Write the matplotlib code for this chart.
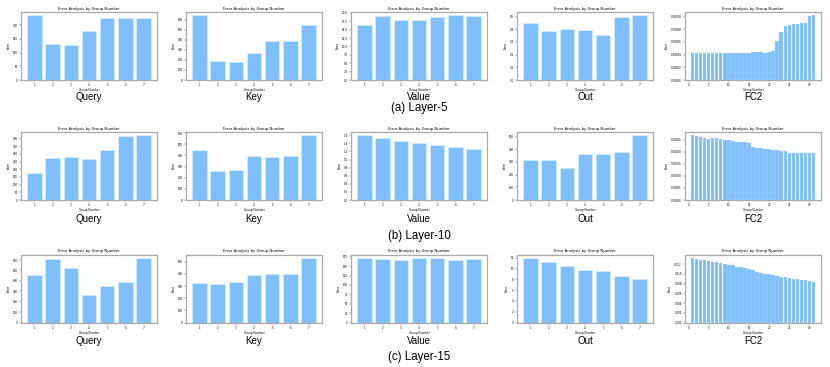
import numpy as np
import matplotlib.pyplot as plt
from matplotlib.ticker import MultipleLocator

# ---- data ----
groups7 = [1, 2, 3, 4, 5, 6, 7]
groups31 = list(range(1, 32))

panel_names = ['Query', 'Key', 'Value', 'Out', 'FC2']
row_captions = ['(a) Layer-5', '(b) Layer-10', '(c) Layer-15']

# Layer-5
query_l5 = [236, 131, 127, 177, 225, 225, 227]
key_l5 = [643, 188, 175, 267, 389, 392, 545]
value_l5 = [16.5, 19.0, 18.0, 17.8, 18.7, 19.3, 19.1]
out_l5 = [0.45, 0.384, 0.40, 0.39, 0.353, 0.495, 0.51]
fc2_l5 = np.array([4.28, 4.28, 4.20, 4.22, 4.18, 4.18, 4.20, 4.22, 4.22, 4.18,
                   4.20, 4.22, 4.22, 4.22, 4.20, 4.38, 4.40, 4.38, 4.32, 4.48,
                   4.62, 6.13, 7.64, 8.53, 8.69, 8.80, 8.80, 8.95, 9.06, 10.16,
                   10.21]) * 1e-5

# Layer-10
query_l10 = [179, 275, 277, 264, 324, 415, 422]
key_l10 = [452, 259, 268, 396, 384, 390, 580]
value_l10 = [1.60, 1.534, 1.46, 1.42, 1.37, 1.31, 1.26]
out_l10 = [314, 314, 251, 359, 364, 380, 510]
fc2_l10 = np.array([26.8, 26.5, 26.1, 25.8, 25.4, 25.8, 25.5, 25.4, 25.0, 24.7,
                    24.3, 24.0, 23.9, 23.8, 23.4, 22.0, 21.7, 21.4, 21.3, 20.9,
                    20.7, 20.5, 20.3, 20.1, 19.5, 19.5, 19.6, 19.5, 19.4, 19.4,
                    19.4]) * 1e-5

# Layer-15
query_l15 = [456, 606, 526, 263, 350, 391, 622]
key_l15 = [321, 319, 332, 393, 398, 398, 533]
value_l15 = [171.4, 169.6, 165.2, 172.3, 172.3, 166.1, 168.7]
out_l15 = [12.0, 11.3, 10.4, 9.8, 9.57, 8.7, 8.09]
fc2_l15 = np.array([13.29, 13.0, 12.88, 12.81, 12.6, 12.47, 12.33, 12.12, 11.99,
                    11.85, 11.71, 11.44, 11.3, 11.1, 10.9, 10.68, 10.4, 10.2,
                    10.0, 9.86, 9.73, 9.52, 9.38, 9.32, 9.18, 8.97, 8.84, 8.77,
                    8.63, 8.49, 8.36]) * 1e-3

rows = [
    [query_l5, key_l5, value_l5, out_l5, fc2_l5],
    [query_l10, key_l10, value_l10, out_l10, fc2_l10],
    [query_l15, key_l15, value_l15, out_l15, fc2_l15],
]

# y tick spacing per panel
ysteps = [
    [50, 100, 2.5, 0.1, 2e-5],
    [50, 100, 0.2, 100, 5e-5],
    [100, 100, 25, 2, 0.002],
]

# ---- layout (pixels) ----
W, H = 830, 367
fig = plt.figure(figsize=(W / 100, H / 100), dpi=100)

col_left = [21, 186, 351, 517, 685]
ax_w = 136
row_top = [12, 132, 254.5]
ax_h = 68
label_y = [97, 219, 341]
caption_y = [108, 236, 357]

bar_color = '#80bfff'
spine_color = '#aaaaaa'

for r in range(3):
    for c in range(5):
        left = col_left[c]
        top = row_top[r]
        ax = fig.add_axes([left / W, 1 - (top + ax_h) / H, ax_w / W, ax_h / H])
        vals = rows[r][c]
        xs = groups31 if c == 4 else groups7
        ax.bar(xs, vals, width=0.8, color=bar_color, edgecolor='#d6ebff',
               linewidth=0.15 if c == 4 else 0.5)
        ax.set_title('Error Analysis by Group Number', fontsize=2.7, pad=1.5)
        ax.set_xlabel('Group Number', fontsize=2.1, labelpad=1)
        ax.set_ylabel('Error', fontsize=2.1, labelpad=1.5)
        ax.yaxis.set_major_locator(MultipleLocator(ysteps[r][c]))
        if c == 4:
            ax.xaxis.set_major_locator(MultipleLocator(5))
        else:
            ax.set_xticks(groups7)
        ax.tick_params(labelsize=2.0, length=1.2, width=0.3, pad=1,
                       color='#555555')
        for s in ax.spines.values():
            s.set_color(spine_color)
            s.set_linewidth(0.9)

        cx = (left + ax_w / 2) / W
        fig.text(cx, 1 - label_y[r] / H, panel_names[c], ha='center',
                 va='center', fontsize=7, family='Liberation Sans')

    cx = (col_left[2] + ax_w / 2) / W
    fig.text(cx, 1 - caption_y[r] / H, row_captions[r], ha='center',
             va='center', fontsize=8.3, family='Liberation Sans')

fig.savefig('out.png', dpi=100, facecolor='white')
